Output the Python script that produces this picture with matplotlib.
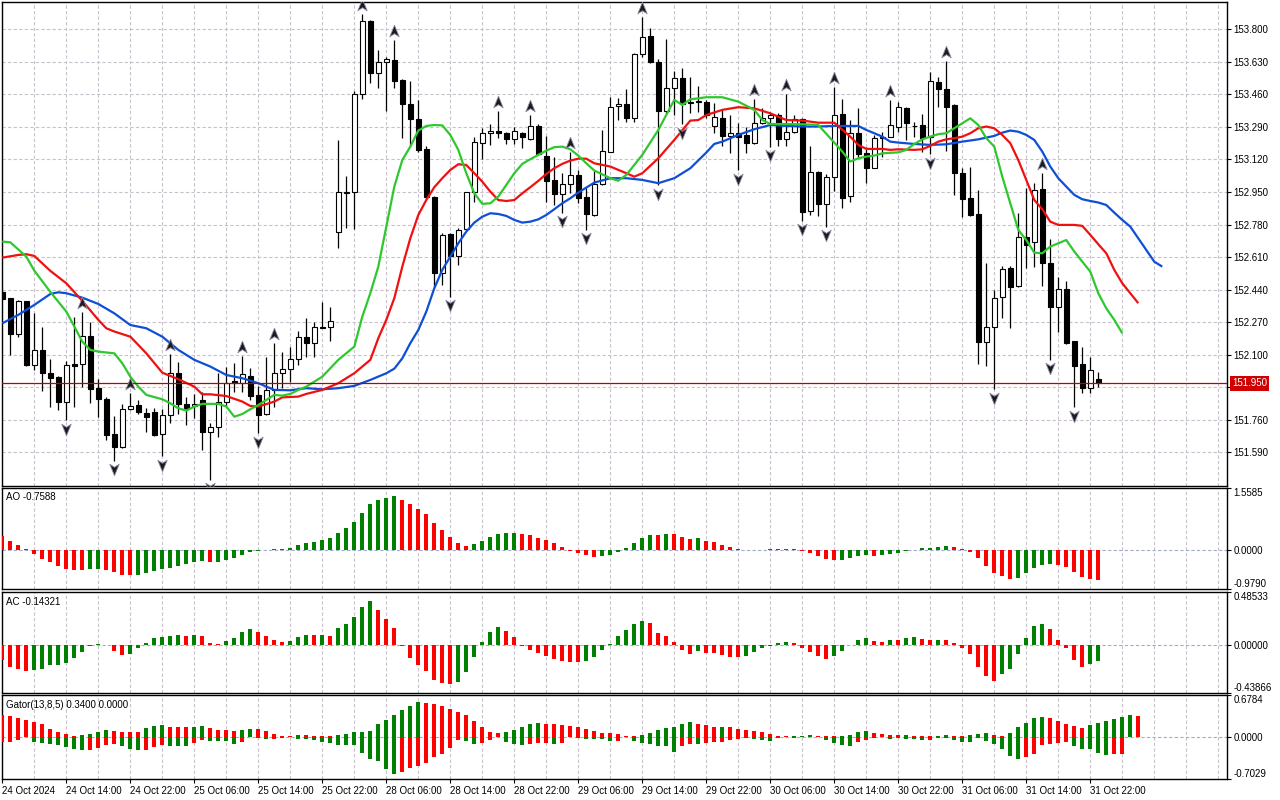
import numpy as np
import matplotlib
matplotlib.use("Agg")
import matplotlib.pyplot as plt
from matplotlib.path import Path
from matplotlib.transforms import blended_transform_factory

plt.rcParams.update({
    "font.family": "Liberation Sans",
    "font.size": 7,
})

# ---- H1 candles, bar 0 = 24 Oct 06:00, bar 137 = 31 Oct 23:00 ----
OPEN = [152.426, 152.395, 152.207, 152.381, 152.046, 152.125, 152.006, 151.985, 151.851, 152.050,
        152.050, 152.198, 151.928, 151.869, 151.686, 151.620, 151.815, 151.837, 151.794, 151.799,
        151.684, 151.785, 152.003, 151.841, 151.832, 151.863, 151.698, 151.721, 151.855, 151.965,
        151.951, 151.989, 151.890, 151.789, 151.916, 152.003, 152.024, 152.076, 152.191, 152.160,
        152.247, 152.243, 152.740, 152.947, 152.949, 153.460, 153.844, 153.570, 153.628, 153.640,
        153.535, 153.410, 153.332, 153.175, 152.926, 152.529, 152.729, 152.618, 152.757, 152.949,
        153.208, 153.257, 153.271, 153.257, 153.225, 153.257, 153.225, 153.297, 153.138, 153.013,
        152.938, 152.990, 153.039, 152.922, 152.830, 152.990, 153.161, 153.400, 153.408, 153.335,
        153.669, 153.765, 153.631, 153.375, 153.492, 153.544, 153.413, 153.420, 153.419, 153.297,
        153.335, 153.245, 153.257, 153.248, 153.208, 153.309, 153.335, 153.352, 153.225, 153.265,
        153.330, 152.853, 153.053, 152.888, 153.030, 153.356, 152.931, 153.257, 153.152, 153.077,
        153.231, 153.239, 153.292, 153.387, 153.297, 153.298, 153.239, 153.527, 153.487, 153.405,
        153.048, 152.917, 152.834, 152.168, 152.243, 152.400, 152.555, 152.461, 152.717, 152.687,
        152.966, 152.578, 152.348, 152.442, 152.172, 152.050, 151.928, 151.973]
HIGH = [152.438, 152.398, 152.386, 152.381, 152.316, 152.247, 152.076, 151.991, 152.067, 152.299,
        152.325, 152.273, 151.972, 151.877, 151.780, 151.843, 151.902, 151.863, 151.820, 151.820,
        151.815, 152.104, 152.064, 151.881, 151.893, 151.907, 151.742, 152.003, 152.038, 152.055,
        152.093, 152.029, 151.937, 152.090, 152.163, 152.116, 152.142, 152.224, 152.290, 152.273,
        152.377, 152.351, 153.222, 153.036, 153.480, 153.880, 153.849, 153.692, 153.657, 153.744,
        153.539, 153.530, 153.431, 153.191, 152.929, 152.734, 152.734, 152.760, 152.952, 153.239,
        153.283, 153.305, 153.375, 153.265, 153.292, 153.262, 153.352, 153.305, 153.243, 153.135,
        153.048, 153.161, 153.065, 152.969, 153.062, 153.274, 153.448, 153.440, 153.488, 153.678,
        153.866, 153.805, 153.643, 153.748, 153.582, 153.596, 153.549, 153.504, 153.431, 153.413,
        153.379, 153.352, 153.309, 153.292, 153.436, 153.387, 153.370, 153.361, 153.460, 153.352,
        153.335, 153.192, 153.062, 153.044, 153.497, 153.434, 153.326, 153.387, 153.187, 153.248,
        153.265, 153.431, 153.422, 153.393, 153.318, 153.358, 153.579, 153.553, 153.636, 153.410,
        153.074, 153.083, 152.961, 152.578, 152.438, 152.564, 152.564, 152.839, 152.973, 152.996,
        153.048, 152.703, 152.504, 152.485, 152.172, 152.142, 152.086, 152.008]
LOW = [152.386, 152.099, 152.194, 152.043, 152.020, 151.912, 151.825, 151.811, 151.759, 151.829,
       151.933, 151.846, 151.776, 151.655, 151.547, 151.611, 151.811, 151.789, 151.698, 151.675,
       151.571, 151.742, 151.789, 151.733, 151.768, 151.602, 151.446, 151.672, 151.829, 151.907,
       151.907, 151.863, 151.689, 151.785, 151.829, 151.925, 151.959, 152.046, 152.090, 152.090,
       152.238, 152.174, 152.659, 152.760, 152.755, 153.434, 153.521, 153.492, 153.373, 153.492,
       153.231, 153.187, 153.161, 152.912, 152.452, 152.464, 152.403, 152.569, 152.752, 152.896,
       153.123, 153.196, 153.231, 153.199, 153.199, 153.178, 153.222, 153.144, 152.896, 152.882,
       152.842, 152.943, 152.891, 152.752, 152.827, 152.987, 153.157, 153.326, 153.314, 153.318,
       153.654, 153.622, 152.987, 153.365, 153.352, 153.304, 153.361, 153.370, 153.335, 153.257,
       153.192, 153.156, 153.065, 153.152, 153.201, 153.304, 153.187, 153.192, 153.192, 153.260,
       152.800, 152.830, 152.825, 152.769, 152.957, 152.865, 152.896, 153.135, 152.999, 153.074,
       153.135, 153.239, 153.265, 153.222, 153.239, 153.161, 153.149, 153.393, 153.166, 152.935,
       152.821, 152.825, 152.050, 152.043, 151.919, 152.294, 152.241, 152.456, 152.551, 152.557,
       152.461, 152.073, 152.217, 152.154, 151.825, 151.902, 151.898, 151.933]
CLOSE = [152.391, 152.207, 152.381, 152.046, 152.125, 152.003, 151.980, 151.851, 152.046, 152.043,
         152.198, 151.919, 151.867, 151.681, 151.620, 151.815, 151.834, 151.803, 151.776, 151.681,
         151.785, 152.003, 151.841, 151.820, 151.841, 151.698, 151.721, 151.855, 151.951, 151.954,
         151.998, 151.884, 151.785, 151.916, 152.003, 152.024, 152.076, 152.191, 152.160, 152.243,
         152.241, 152.278, 152.949, 152.950, 153.460, 153.844, 153.570, 153.631, 153.645, 153.532,
         153.408, 153.330, 153.170, 152.922, 152.529, 152.726, 152.616, 152.752, 152.949, 153.210,
         153.257, 153.271, 153.257, 153.225, 153.271, 153.236, 153.297, 153.147, 153.009, 152.938,
         152.990, 153.039, 152.921, 152.835, 152.990, 153.164, 153.393, 153.408, 153.335, 153.669,
         153.758, 153.631, 153.375, 153.492, 153.544, 153.410, 153.422, 153.424, 153.352, 153.340,
         153.245, 153.257, 153.239, 153.208, 153.309, 153.335, 153.352, 153.225, 153.265, 153.330,
         152.847, 153.053, 152.888, 153.027, 153.352, 152.921, 153.257, 153.149, 153.077, 153.231,
         153.239, 153.300, 153.393, 153.312, 153.295, 153.234, 153.530, 153.487, 153.396, 153.048,
         152.912, 152.830, 152.168, 152.247, 152.395, 152.548, 152.456, 152.713, 152.673, 152.961,
         152.578, 152.351, 152.442, 152.163, 152.043, 151.928, 152.020, 151.951]
LAST_PRICE = 151.950

FRACTAL_UP = [10, 16, 21, 30, 34, 45, 49, 62, 66, 71, 80, 94, 98, 104, 111, 118, 130]
FRACTAL_DOWN = [8, 14, 20, 26, 32, 56, 70, 73, 82, 85, 92, 96, 100, 103, 116, 124, 131, 134]

# ---- Alligator (bar, price) ----
JAW = [(0, 152.264), (2, 152.308), (4, 152.360), (6, 152.417), (7, 152.426), (8, 152.421),
       (10, 152.398), (12, 152.365), (14, 152.316), (16, 152.255), (18, 152.238), (20, 152.194),
       (22, 152.125), (24, 152.073), (26, 152.038), (28, 151.994), (30, 151.977), (32, 151.951),
       (34, 151.916), (36, 151.914), (38, 151.925), (40, 151.919), (42, 151.925), (44, 151.937),
       (46, 151.968), (48, 152.003), (49, 152.027), (50, 152.081), (51, 152.160), (52, 152.229),
       (53, 152.325), (54, 152.447), (55, 152.543), (56, 152.612), (57, 152.682), (58, 152.743),
       (59, 152.790), (60, 152.821), (61, 152.839), (62, 152.835), (63, 152.825), (64, 152.804),
       (65, 152.790), (66, 152.795), (67, 152.807), (68, 152.830), (69, 152.860), (70, 152.891),
       (71, 152.917), (72, 152.947), (73, 152.973), (74, 152.999), (76, 153.022), (78, 153.022),
       (80, 153.013), (82, 152.996), (84, 153.022), (86, 153.074), (88, 153.156), (89, 153.201),
       (90, 153.213), (92, 153.248), (94, 153.278), (96, 153.300), (98, 153.295), (100, 153.292),
       (102, 153.292), (104, 153.295), (106, 153.295), (107, 153.295), (108, 153.274), (109, 153.257),
       (110, 153.239), (111, 153.213), (112, 153.208), (114, 153.201), (116, 153.196), (118, 153.199),
       (120, 153.213), (122, 153.225), (124, 153.243), (125, 153.260), (126, 153.271), (127, 153.265),
       (128, 153.248), (129, 153.222), (130, 153.161), (131, 153.083), (132, 153.022), (133, 152.978),
       (134, 152.935), (135, 152.912), (136, 152.903), (137, 152.895), (138, 152.882), (139, 152.842),
       (140, 152.804), (141, 152.769), (142, 152.708), (143, 152.647), (144, 152.586), (145, 152.560)]
TEETH = [(0, 152.607), (2, 152.621), (3, 152.625), (4, 152.616), (6, 152.538), (8, 152.473),
         (10, 152.381), (12, 152.282), (13, 152.238), (14, 152.221), (16, 152.194), (17, 152.151),
         (18, 152.107), (20, 152.006), (22, 151.972), (24, 151.933), (25, 151.893), (26, 151.893),
         (28, 151.884), (30, 151.855), (31, 151.832), (32, 151.829), (34, 151.855), (35, 151.877),
         (37, 151.881), (38, 151.895), (40, 151.916), (42, 151.951), (44, 152.003), (46, 152.073),
         (47, 152.186), (48, 152.282), (49, 152.395), (50, 152.560), (51, 152.708), (52, 152.830),
         (53, 152.908), (54, 152.975), (55, 153.022), (56, 153.065), (57, 153.095), (58, 153.091),
         (59, 153.048), (60, 153.004), (61, 152.952), (62, 152.908), (63, 152.903), (64, 152.908),
         (65, 152.943), (66, 152.975), (67, 153.008), (68, 153.044), (69, 153.074), (70, 153.097),
         (71, 153.114), (72, 153.124), (73, 153.124), (74, 153.100), (76, 153.083), (78, 153.048),
         (79, 153.030), (80, 153.048), (82, 153.126), (84, 153.222), (86, 153.323), (87, 153.326),
         (88, 153.352), (90, 153.379), (92, 153.393), (94, 153.387), (96, 153.361), (98, 153.326),
         (100, 153.323), (102, 153.312), (104, 153.312), (106, 153.239), (107, 153.196), (108, 153.175),
         (110, 153.175), (111, 153.170), (112, 153.173), (114, 153.170), (115, 153.173), (116, 153.191),
         (117, 153.213), (118, 153.225), (119, 153.231), (120, 153.239), (121, 153.257), (122, 153.283),
         (123, 153.292), (124, 153.283), (125, 153.248), (126, 153.205), (127, 153.117), (128, 153.013),
         (129, 152.908), (130, 152.860), (131, 152.795), (132, 152.778), (134, 152.778), (135, 152.773),
         (136, 152.726), (137, 152.677), (138, 152.630), (139, 152.543), (140, 152.473), (141, 152.421),
         (142, 152.369)]
LIPS = [(0, 152.691), (1, 152.687), (3, 152.612), (4, 152.539), (6, 152.428), (8, 152.325),
        (9, 152.247), (10, 152.168), (11, 152.125), (12, 152.116), (14, 152.107), (15, 152.055),
        (16, 151.985), (17, 151.933), (18, 151.890), (20, 151.867), (21, 151.846), (22, 151.820),
        (23, 151.808), (24, 151.829), (25, 151.843), (27, 151.843), (28, 151.829), (29, 151.776),
        (30, 151.790), (31, 151.815), (32, 151.837), (34, 151.890), (35, 151.886), (36, 151.895),
        (37, 151.916), (38, 151.933), (40, 151.985), (42, 152.073), (44, 152.142), (45, 152.299),
        (46, 152.421), (47, 152.560), (48, 152.769), (49, 152.978), (50, 153.117), (51, 153.187),
        (52, 153.271), (53, 153.295), (54, 153.300), (55, 153.298), (56, 153.248), (57, 153.170),
        (58, 153.048), (59, 152.943), (60, 152.888), (61, 152.891), (62, 152.926), (63, 152.987),
        (64, 153.048), (65, 153.097), (66, 153.121), (67, 153.144), (68, 153.166), (69, 153.184),
        (70, 153.187), (71, 153.173), (72, 153.140), (73, 153.100), (74, 153.062), (76, 153.022),
        (77, 153.009), (78, 153.039), (80, 153.144), (82, 153.274), (84, 153.431), (85, 153.405),
        (86, 153.434), (88, 153.445), (90, 153.445), (92, 153.422), (94, 153.379), (95, 153.326),
        (96, 153.305), (98, 153.305), (100, 153.304), (102, 153.300), (104, 153.208), (105, 153.161),
        (106, 153.109), (107, 153.126), (108, 153.135), (109, 153.140), (110, 153.152), (112, 153.157),
        (113, 153.170), (114, 153.201), (115, 153.225), (116, 153.239), (117, 153.252), (118, 153.257),
        (119, 153.283), (120, 153.309), (121, 153.335), (122, 153.300), (123, 153.231), (124, 153.187),
        (125, 153.030), (126, 152.891), (127, 152.752), (128, 152.699), (129, 152.633), (130, 152.630),
        (131, 152.665), (132, 152.682), (133, 152.699), (134, 152.639), (135, 152.586), (136, 152.534),
        (137, 152.421), (138, 152.342), (139, 152.282), (140, 152.212)]

# ---- oscillators ----
AO = [0.349, 0.225, 0.125, 0.017, -0.092, -0.216, -0.291, -0.399, -0.466, -0.491,
      -0.492, -0.466, -0.462, -0.491, -0.549, -0.624, -0.625, -0.616, -0.566, -0.524,
      -0.483, -0.441, -0.399, -0.349, -0.300, -0.266, -0.300, -0.291, -0.241, -0.191,
      -0.116, -0.042, -0.017, -0.008, 0.025, 0.033, 0.058, 0.133, 0.183, 0.208,
      0.258, 0.308, 0.433, 0.557, 0.707, 0.932, 1.156, 1.248, 1.306, 1.348,
      1.248, 1.156, 1.032, 0.907, 0.682, 0.507, 0.333, 0.183, 0.100, 0.158,
      0.233, 0.333, 0.408, 0.433, 0.435, 0.408, 0.366, 0.308, 0.258, 0.183,
      0.083, -0.012, -0.067, -0.116, -0.166, -0.150, -0.125, -0.042, 0.050, 0.183,
      0.300, 0.374, 0.373, 0.399, 0.398, 0.333, 0.283, 0.300, 0.233, 0.200,
      0.125, 0.075, 0.033, 0.008, 0.003, 0.008, 0.017, 0.020, 0.025, 0.020,
      -0.025, -0.075, -0.141, -0.216, -0.241, -0.240, -0.208, -0.158, -0.116, -0.141,
      -0.116, -0.092, -0.067, -0.017, -0.008, 0.050, 0.058, 0.075, 0.100, 0.075,
      0.033, -0.042, -0.200, -0.399, -0.574, -0.649, -0.715, -0.691, -0.574, -0.441,
      -0.374, -0.349, -0.374, -0.424, -0.549, -0.674, -0.724, -0.7588]
AC = [-0.134, -0.198, -0.216, -0.231, -0.222, -0.213, -0.185, -0.184, -0.158, -0.116,
      -0.058, -0.003, 0.012, -0.002, -0.049, -0.085, -0.076, -0.030, 0.024, 0.067,
      0.076, 0.085, 0.094, 0.085, 0.095, 0.085, 0.021, 0.012, 0.040, 0.067,
      0.116, 0.149, 0.116, 0.085, 0.049, 0.033, 0.040, 0.076, 0.094, 0.093,
      0.095, 0.085, 0.158, 0.198, 0.258, 0.350, 0.404, 0.322, 0.240, 0.158,
      -0.003, -0.116, -0.179, -0.234, -0.316, -0.343, -0.353, -0.334, -0.243, -0.106,
      0.030, 0.122, 0.167, 0.131, 0.076, -0.003, -0.040, -0.067, -0.097, -0.125,
      -0.140, -0.152, -0.153, -0.143, -0.103, -0.040, 0.012, 0.085, 0.140, 0.195,
      0.222, 0.204, 0.112, 0.085, 0.030, -0.040, -0.076, -0.049, -0.067, -0.068,
      -0.085, -0.103, -0.104, -0.094, -0.058, -0.021, -0.003, 0.021, 0.030, 0.021,
      -0.021, -0.058, -0.094, -0.122, -0.094, -0.049, 0.002, 0.049, 0.067, 0.040,
      0.030, 0.049, 0.048, 0.067, 0.076, 0.058, 0.049, 0.052, 0.049, 0.021,
      -0.030, -0.076, -0.198, -0.277, -0.322, -0.267, -0.213, -0.076, 0.067, 0.176,
      0.195, 0.149, 0.049, -0.030, -0.131, -0.195, -0.167, -0.14321]
GATOR_UP = [0.347, 0.335, 0.301, 0.278, 0.233, 0.199, 0.131, 0.080, 0.045, 0.011,
            0.020, 0.045, 0.080, 0.102, 0.091, 0.080, 0.075, 0.070, 0.136, 0.170,
            0.182, 0.165, 0.153, 0.152, 0.155, 0.170, 0.136, 0.114, 0.102, 0.097,
            0.114, 0.131, 0.119, 0.097, 0.045, 0.017, 0.011, 0.028, 0.023, 0.011,
            0.005, 0.003, 0.028, 0.045, 0.068, 0.069, 0.097, 0.199, 0.267, 0.352,
            0.438, 0.506, 0.574, 0.545, 0.534, 0.506, 0.455, 0.398, 0.347, 0.250,
            0.153, 0.080, 0.063, 0.080, 0.114, 0.165, 0.199, 0.216, 0.213, 0.199,
            0.182, 0.181, 0.165, 0.131, 0.097, 0.063, 0.062, 0.045, 0.011, 0.004,
            0.028, 0.063, 0.114, 0.136, 0.165, 0.199, 0.233, 0.199, 0.182, 0.153,
            0.155, 0.152, 0.131, 0.114, 0.097, 0.080, 0.045, 0.017, 0.011, 0.012,
            0.017, 0.028, 0.017, 0.011, 0.005, 0.008, 0.028, 0.080, 0.097, 0.063,
            0.045, 0.028, 0.027, 0.029, 0.017, 0.010, 0.008, 0.011, 0.028, 0.011,
            0.006, 0.028, 0.045, 0.063, 0.028, 0.011, 0.063, 0.153, 0.222, 0.301,
            0.324, 0.307, 0.250, 0.199, 0.170, 0.136, 0.188, 0.222, 0.250, 0.284,
            0.318, 0.352, 0.340]
GATOR_LO = [-0.097, -0.091, -0.051, -0.011, -0.091, -0.108, -0.125, -0.142, -0.176, -0.205,
            -0.222, -0.220, -0.188, -0.142, -0.125, -0.153, -0.210, -0.222, -0.221, -0.170,
            -0.142, -0.153, -0.155, -0.156, -0.108, -0.051, -0.068, -0.069, -0.070, -0.119,
            -0.091, -0.015, -0.028, -0.034, -0.033, -0.017, -0.011, -0.034, -0.045, -0.051,
            -0.091, -0.102, -0.131, -0.142, -0.143, -0.278, -0.364, -0.398, -0.534, -0.619,
            -0.585, -0.511, -0.489, -0.432, -0.341, -0.295, -0.188, -0.051, -0.068, -0.119,
            -0.108, -0.051, -0.005, -0.085, -0.125, -0.142, -0.125, -0.114, -0.108, -0.125,
            -0.102, -0.003, -0.023, -0.034, -0.035, -0.036, -0.068, -0.067, -0.005, -0.068,
            -0.102, -0.125, -0.153, -0.155, -0.261, -0.153, -0.125, -0.126, -0.108, -0.091,
            -0.090, -0.051, -0.034, -0.017, -0.034, -0.051, -0.068, -0.028, -0.005, -0.017,
            -0.010, -0.005, -0.008, -0.051, -0.102, -0.136, -0.153, -0.085, -0.051, -0.020,
            -0.010, -0.034, -0.022, -0.034, -0.035, -0.051, -0.050, -0.017, -0.022, -0.051,
            -0.085, -0.086, -0.017, -0.068, -0.119, -0.205, -0.324, -0.375, -0.341, -0.290,
            -0.136, -0.125, -0.108, -0.085, -0.153, -0.205, -0.206, -0.273, -0.307, -0.290,
            -0.289]

PRICE_TICKS = [153.800, 153.630, 153.460, 153.290, 153.120, 152.950, 152.780,
               152.610, 152.440, 152.270, 152.100, 151.930, 151.760, 151.590]
AO_RANGE = (-0.9790, 1.5585)
AC_RANGE = (-0.43866, 0.48533)
GATOR_RANGE = (-0.7029, 0.6784)
TIME_LABELS = ["24 Oct 2024", "24 Oct 14:00", "24 Oct 22:00", "25 Oct 06:00", "25 Oct 14:00",
               "25 Oct 22:00", "28 Oct 06:00", "28 Oct 14:00", "28 Oct 22:00", "29 Oct 06:00",
               "29 Oct 14:00", "29 Oct 22:00", "30 Oct 06:00", "30 Oct 14:00", "30 Oct 22:00",
               "31 Oct 06:00", "31 Oct 14:00", "31 Oct 22:00"]

GREEN = "#008000"
RED = "#ff0000"
GRID = "#c9c1cd"
ZERO = "#a3accb"
DASH = (0, (3, 2))

W, H = 1280, 800
fig = plt.figure(figsize=(12.8, 8), dpi=100)


def panel(top, bottom):
    return fig.add_axes([2 / W, 1 - bottom / H, 1225 / W, (bottom - top) / H])


ax = panel(2.3, 485.7)
ax_ao = panel(487.7, 589.3)
ax_ac = panel(592.0, 693.3)
ax_g = panel(695.3, 779.3)

# time labels every 8 bars, dashed grid every 4 bars
major_x = np.arange(0, 8 * len(TIME_LABELS), 8)
minor_x = [v for v in range(0, 153, 4) if v not in set(major_x)]

for a in (ax, ax_ao, ax_ac, ax_g):
    a.set_xlim(-0.04, 153.09)
    a.set_xticks(major_x)
    a.set_xticks(minor_x, minor=True)
    a.grid(True, which="both", axis="x", color=GRID, ls=DASH, lw=0.8)
    a.set_axisbelow(True)
    a.yaxis.tick_right()
    a.tick_params(axis="y", direction="out", length=3, width=0.8, pad=1.5,
                  labelsize=7, colors="black")
    a.tick_params(axis="x", which="both", length=0, labelbottom=False)
    for s in a.spines.values():
        s.set_linewidth(1.0)
        s.set_color("black")

# ---- price panel ----
x = np.arange(len(OPEN))
o, h, l, c = map(np.array, (OPEN, HIGH, LOW, CLOSE))
ax.vlines(x, l, h, color="black", lw=0.9, zorder=2)
bull = c >= o
ax.bar(x, np.abs(c - o), bottom=np.minimum(o, c), width=0.62,
       color=np.where(bull, "white", "black"), edgecolor="black", lw=0.8, zorder=3)

for pts, col in ((JAW, "#0d4fd6"), (TEETH, "#f01010"), (LIPS, "#2ec82e")):
    bx, by = zip(*pts)
    ax.plot(bx, by, color=col, lw=1.6, zorder=4, solid_capstyle="butt")

ax.axhline(LAST_PRICE, color="#c00000", lw=0.9, zorder=4)

up_mark = Path([(0, 1), (0.75, -0.85), (0, -0.35), (-0.75, -0.85), (0, 1)],
               [Path.MOVETO, Path.LINETO, Path.LINETO, Path.LINETO, Path.CLOSEPOLY])
dn_mark = Path([(0, -1), (0.75, 0.85), (0, 0.35), (-0.75, 0.85), (0, -1)],
               [Path.MOVETO, Path.LINETO, Path.LINETO, Path.LINETO, Path.CLOSEPOLY])
ax.plot(FRACTAL_UP, h[FRACTAL_UP] + 0.047, ls="none", marker=up_mark, ms=9,
        mfc="#1b1b1b", mec="#8a8aa8", mew=0.6, zorder=5)
ax.plot(FRACTAL_DOWN, l[FRACTAL_DOWN] - 0.045, ls="none", marker=dn_mark, ms=9,
        mfc="#1b1b1b", mec="#8a8aa8", mew=0.6, zorder=5)

ax.set_ylim(151.4155, 153.941)
ax.set_yticks(PRICE_TICKS)
# the level next to the last price sits under its red tag, so its label is left blank
ax.set_yticklabels(["" if abs(v - LAST_PRICE) < 0.05 else f"{v:.3f}" for v in PRICE_TICKS])
ax.grid(True, axis="y", color=GRID, ls=DASH, lw=0.8)

trans = blended_transform_factory(ax.transAxes, ax.transData)
ax.text(1.0041, LAST_PRICE, f"{LAST_PRICE:.3f}", transform=trans, ha="left", va="center",
        color="white", fontsize=7, zorder=10, clip_on=False,
        bbox=dict(boxstyle="square,pad=0.22", fc="#d00000", ec="none"))


# ---- oscillators ----
def rising_colors(v, magnitude=False):
    v = np.abs(v) if magnitude else np.asarray(v)
    return [GREEN if i and v[i] > v[i - 1] else RED for i in range(len(v))]


def scale(a, rng, fmt, label, ylab):
    a.set_ylim(*rng)
    a.set_yticks([rng[0], 0.0, rng[1]])
    a.set_yticklabels([fmt.format(rng[0]), fmt.format(0.0), fmt.format(rng[1])])
    tl = a.get_yticklabels()
    tl[0].set_va("bottom")
    tl[2].set_va("top")
    a.axhline(0, color=ZERO, ls=DASH, lw=0.8, zorder=1)
    a.text(0.0033, ylab, label, transform=a.transAxes, ha="left", va="center", fontsize=7)


ax_ao.bar(np.arange(len(AO)), AO, width=0.5, color=rising_colors(AO), zorder=3)
scale(ax_ao, AO_RANGE, "{:.4f}", f"AO {AO[-1]:.4f}", 0.911)

ax_ac.bar(np.arange(len(AC)), AC, width=0.5, color=rising_colors(AC), zorder=3)
scale(ax_ac, AC_RANGE, "{:.5f}", f"AC {AC[-1]:.5f}", 0.901)

ax_g.bar(np.arange(len(GATOR_UP)), GATOR_UP, width=0.5, color=rising_colors(GATOR_UP), zorder=3)
ax_g.bar(np.arange(len(GATOR_LO)), GATOR_LO, width=0.5,
         color=rising_colors(GATOR_LO, magnitude=True), zorder=3)
scale(ax_g, GATOR_RANGE, "{:.4f}", f"Gator(13,8,5) {GATOR_UP[-1]:.4f} 0.0000", 0.888)

ax_g.tick_params(axis="x", which="major", length=3, width=0.8, direction="out",
                 labelbottom=True, pad=1.5, labelsize=7)
ax_g.set_xticklabels(TIME_LABELS, ha="left")

fig.savefig("out.png", dpi=100)
